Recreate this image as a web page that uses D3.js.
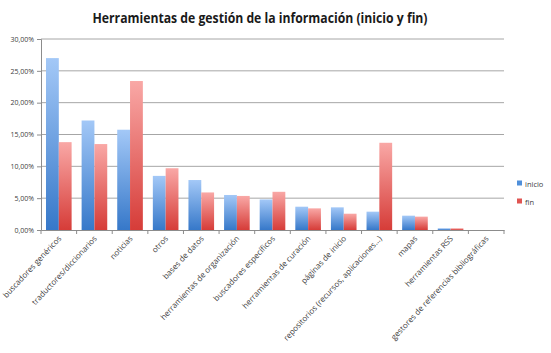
<!DOCTYPE html>
<html>
<head>
<meta charset="utf-8">
<script src="https://cdn.jsdelivr.net/npm/d3@7"></script>
<style>
  body { margin: 0; background: #fff; }
  text { font-family: "Open Sans", sans-serif; }
</style>
</head>
<body>
<script>
const categories = ["buscadores genéricos", "traductores/diccionarios", "noticias", "otros", "bases de datos",
  "herramientas de organización", "buscadores específicos", "herramientas de curación", "páginas de inicio",
  "repositorios (recursos, aplicaciones...)", "mapas", "herramientas RSS", "gestores de referencias bibliográficas"]
const inicio = [27.0, 17.2, 15.75, 8.5, 7.85, 5.5, 4.8, 3.66, 3.56, 2.88, 2.25, 0.27, 0]
const fin = [13.8, 13.5, 23.4, 9.7, 5.9, 5.35, 6.0, 3.4, 2.56, 13.7, 2.1, 0.27, 0]
const yTicks = [0, 5, 10, 15, 20, 25, 30]
const seriesNames = ["inicio", "fin"]

const width = 551, height = 353
const margin = { top: 39, left: 41, right: 47, bottom: 123 }

const svg = d3.select("body").append("svg")
              .attr("width", width)
              .attr("height", height)

const defs = svg.append("defs")
const grads = [["gInicio", "#a3c8f7", "#3678c9"], ["gFin", "#f9a8a6", "#d63c38"]]
grads.forEach(g => {
  const lg = defs.append("linearGradient").attr("id", g[0]).attr("x1", 0).attr("y1", 0).attr("x2", 0).attr("y2", 1)
  lg.append("stop").attr("offset", "0%").attr("stop-color", g[1])
  lg.append("stop").attr("offset", "100%").attr("stop-color", g[2])
})

const x = d3.scaleBand()
            .domain(categories)
            .range([margin.left, width - margin.right])
const xInner = d3.scaleBand()
                 .domain(seriesNames)
                 .range([0, x.bandwidth()])
                 .paddingOuter(0.39)
const y = d3.scaleLinear()
            .domain([0, 30])
            .range([height - margin.bottom, margin.top])

// grid
svg.append("g")
   .selectAll("line")
   .data(yTicks.filter(d => d > 0))
   .enter()
   .append("line")
   .attr("x1", margin.left)
   .attr("x2", width - margin.right)
   .attr("y1", d => y(d))
   .attr("y2", d => y(d))
   .attr("stroke", "#a6a6a6")
   .attr("stroke-width", 1)

// y axis
const yAxis = d3.axisLeft(y)
                .tickValues(yTicks)
                .tickSize(4)
                .tickFormat(d => d3.format(".2f")(d).replace(".", ",") + "%")
const gy = svg.append("g")
              .attr("transform", `translate(${margin.left},0)`)
              .call(yAxis)
gy.select(".domain").attr("stroke", "#8c8c8c")
gy.selectAll(".tick line").attr("stroke", "#8c8c8c")
gy.selectAll(".tick text").attr("font-size", 7).attr("fill", "#404040").attr("x", -7)

// bars
const data = categories.map((c, i) => ({ c: c, vals: [inicio[i], fin[i]] }))
const groups = svg.append("g")
                  .selectAll("g")
                  .data(data)
                  .enter()
                  .append("g")
                  .attr("transform", d => `translate(${x(d.c)},0)`)
groups.selectAll("rect")
      .data(d => d.vals.map((v, j) => ({ s: seriesNames[j], v: v })))
      .enter()
      .append("rect")
      .attr("x", d => xInner(d.s))
      .attr("width", xInner.bandwidth())
      .attr("y", d => y(d.v))
      .attr("height", d => y(0) - y(d.v))
      .attr("fill", d => d.s === "inicio" ? "url(#gInicio)" : "url(#gFin)")

// x axis
const xAxis = d3.axisBottom(x).tickSize(0).tickFormat("")
const gx = svg.append("g")
              .attr("transform", `translate(0,${y(0)})`)
              .call(xAxis)
gx.select(".domain").attr("stroke", "#8c8c8c")
gx.selectAll(".sep")
  .data(d3.range(categories.length + 1))
  .enter()
  .append("line")
  .attr("x1", i => margin.left + i * x.step())
  .attr("x2", i => margin.left + i * x.step())
  .attr("y1", 0)
  .attr("y2", 4)
  .attr("stroke", "#8c8c8c")

svg.append("g")
   .selectAll("text")
   .data(categories)
   .enter()
   .append("text")
   .attr("transform", d => `translate(${x(d) + x.bandwidth() / 2 + 3},${y(0) + 9}) rotate(-47)`)
   .attr("text-anchor", "end")
   .attr("font-size", 8)
   .attr("fill", "#404040")
   .text(d => d)

// legend
const legend = svg.append("g").attr("transform", "translate(517,184)")
seriesNames.forEach((s, i) => {
  legend.append("rect")
        .attr("x", 0).attr("y", i * 18 - 3.5)
        .attr("width", 5).attr("height", 5)
        .attr("fill", i === 0 ? "#4f8fda" : "#e05552")
  legend.append("text")
        .attr("x", 8).attr("y", i * 18 + 2.5)
        .attr("font-size", 7.5)
        .attr("fill", "#404040")
        .text(s)
})

// title
svg.append("text")
   .attr("x", 260)
   .attr("y", 23)
   .attr("text-anchor", "middle")
   .attr("font-size", 14)
   .attr("font-weight", "bold")
   .attr("fill", "#1a1a1a")
   .attr("textLength", 335)
   .attr("lengthAdjust", "spacingAndGlyphs")
   .text("Herramientas de gestión de la información (inicio y fin)")
</script>
</body>
</html>
